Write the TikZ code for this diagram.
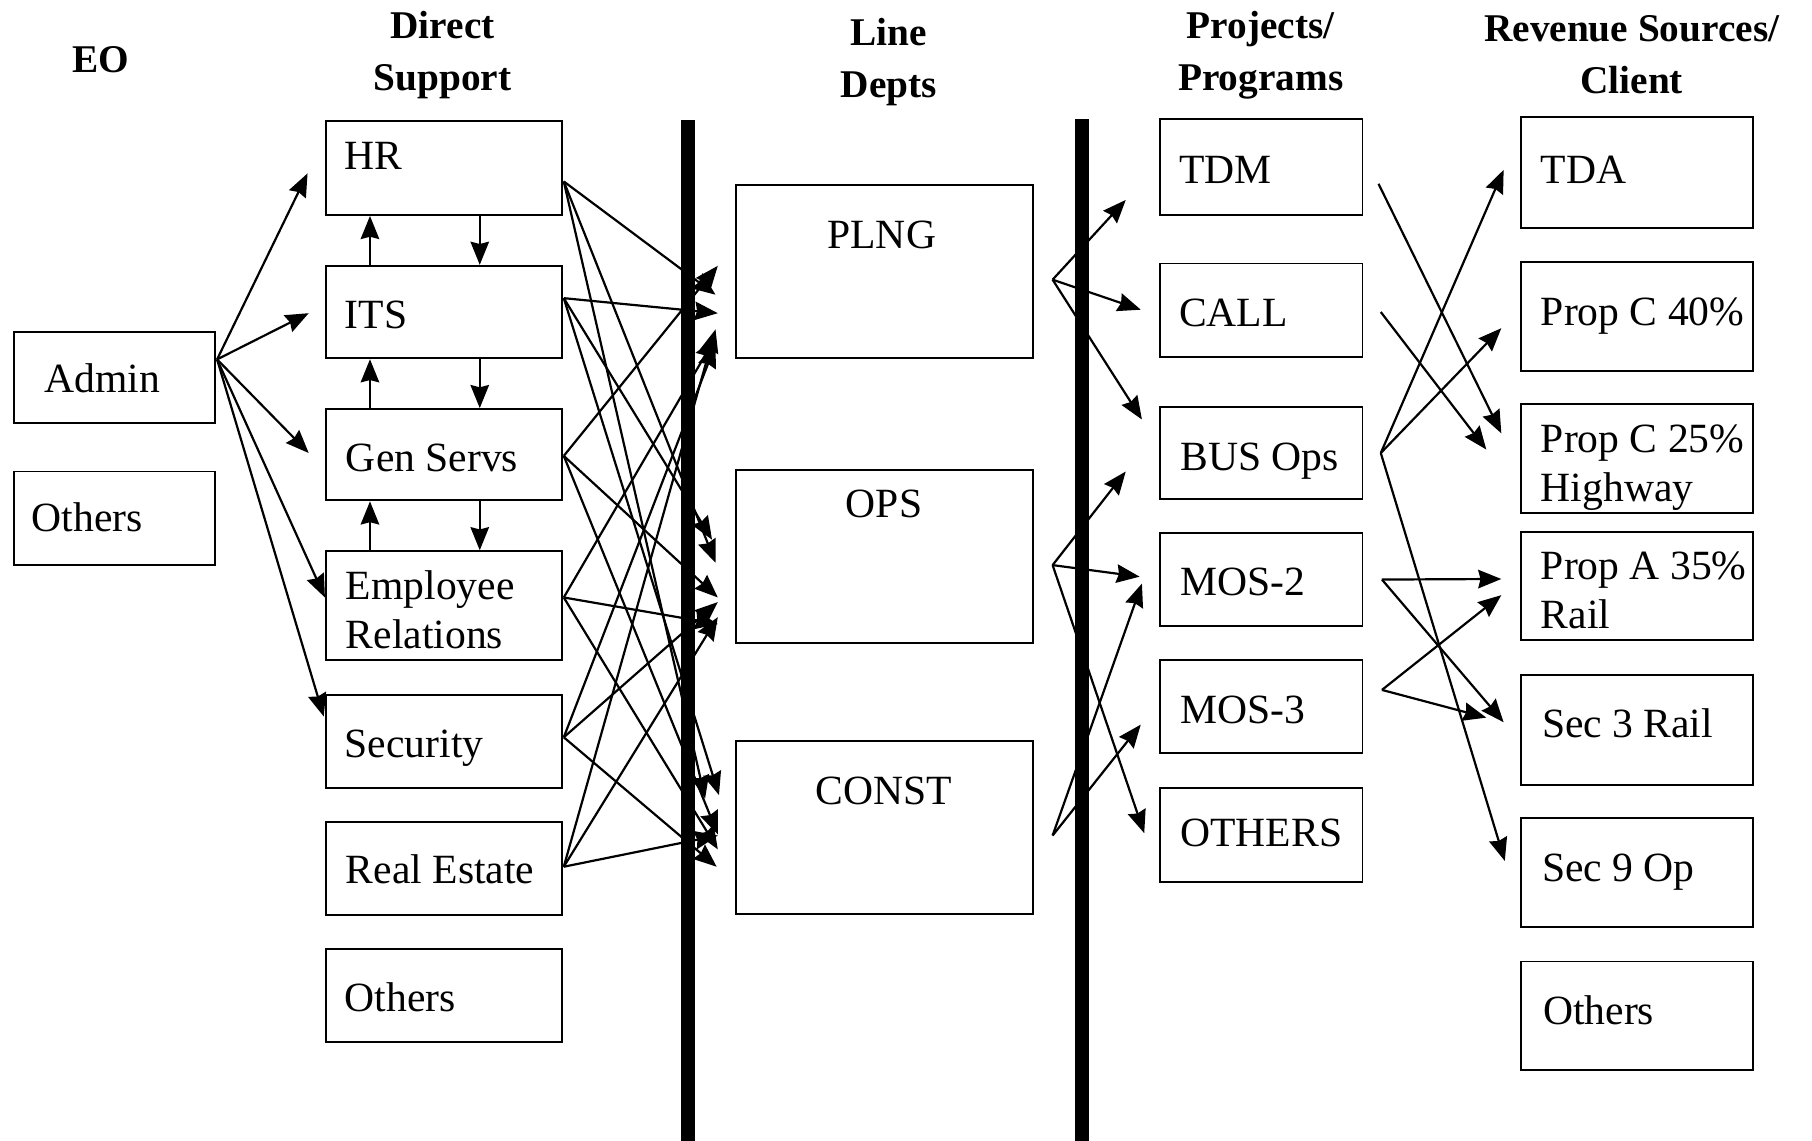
\documentclass[tikz,border=0pt]{standalone}
\usepackage{fontspec}
\setmainfont{Liberation Serif}
\usetikzlibrary{arrows.meta,calc}
\begin{document}
\begin{tikzpicture}[x=0.5pt,y=-0.5pt,
  box/.style={draw, line width=0.85pt, inner sep=0pt},
  txt/.style={inner sep=0pt, font=\fontsize{18}{21}\selectfont, text height=13.5pt, text depth=1.6pt},
  mtxt/.style={inner sep=0pt, font=\fontsize{18}{21}\selectfont, align=left},
  hdr/.style={inner sep=0pt, font=\fontsize{17}{22.5}\selectfont\bfseries, align=center},
  arr/.style={line width=0.95pt, -{Stealth[length=10pt,width=8pt,inset=1pt]}},
  barfill/.style={fill=black},
]
\useasboundingbox (0,0) rectangle (1568,987);
\fill[white] (0,0) rectangle (1568,987);

% headers
\node[hdr] (h-eo) at (87,52) {EO};
\node[hdr] (h-ds) at (383,48) {Direct\\Support};
\node[hdr] (h-ld) at (769,54) {Line\\Depts};
\node[hdr] (h-pp) at (1091,47.5) {Projects/\\Programs};
\node[hdr] (h-rv) at (1412,47) {Revenue Sources/\\Client};

% EO column
\node[box, minimum width=87pt, minimum height=39.5pt] (admin) at (99,326.5) {};
\node[box, minimum width=87pt, minimum height=40.5pt] (eoth) at (99,448.5) {};
\node[txt, anchor=west] (admin-t) at (38,328) {Admin};
\node[txt, anchor=west] (eoth-t) at (27,448) {Others};

% Direct support column
\node[box, minimum width=102pt, minimum height=40.5pt] (hr) at (384,145.5) {};
\node[box, minimum width=102pt, minimum height=40pt] (its) at (384,270) {};
\node[box, minimum width=102pt, minimum height=39.5pt] (gs) at (384,393.5) {};
\node[box, minimum width=102pt, minimum height=47pt] (er) at (384,524) {};
\node[box, minimum width=102pt, minimum height=40.5pt] (sec) at (384,641.5) {};
\node[box, minimum width=102pt, minimum height=40.5pt] (re) at (384,751.5) {};
\node[box, minimum width=102pt, minimum height=40.5pt] (dsoth) at (384,861.5) {};
\node[txt, anchor=west] (hr-t) at (298,135) {HR};
\node[txt, anchor=west] (its-t) at (298,272) {ITS};
\node[txt, anchor=west] (gs-t) at (299,396) {Gen Servs};
\node[mtxt, anchor=west] (er-t) at (299,527.7) {Employee\\Relations};
\node[txt, anchor=west] (sec-t) at (298,644) {Security};
\node[txt, anchor=west] (re-t) at (299,753) {Real Estate};
\node[txt, anchor=west] (dsoth-t) at (298,863) {Others};

% Line depts
\node[box, minimum width=128.5pt, minimum height=75pt] (plng) at (765.5,235) {};
\node[box, minimum width=128.5pt, minimum height=74.5pt] (ops) at (765.5,481.5) {};
\node[box, minimum width=128.5pt, minimum height=75pt] (const) at (765.5,716) {};
\node[txt] (plng-t) at (763,203) {PLNG};
\node[txt] (ops-t) at (765,436) {OPS};
\node[txt] (const-t) at (765,684) {CONST};

% Projects / programs
\node[box, minimum width=87.5pt, minimum height=41.5pt] (tdm) at (1091.5,144.5) {};
\node[box, minimum width=87.5pt, minimum height=40.5pt] (call) at (1091.5,268.5) {};
\node[box, minimum width=87.5pt, minimum height=40pt] (bus) at (1091.5,392) {};
\node[box, minimum width=87.5pt, minimum height=40.5pt] (mos2) at (1091.5,501.5) {};
\node[box, minimum width=87.5pt, minimum height=40.5pt] (mos3) at (1091.5,611.5) {};
\node[box, minimum width=87.5pt, minimum height=40.5pt] (ppoth) at (1091.5,722.5) {};
\node[txt, anchor=west] (tdm-t) at (1020,147) {TDM};
\node[txt, anchor=west] (call-t) at (1020,271) {CALL};
\node[txt, anchor=west] (bus-t) at (1021,395) {BUS Ops};
\node[txt, anchor=west] (mos2-t) at (1021,503) {MOS-2};
\node[txt, anchor=west] (mos3-t) at (1021,614) {MOS-3};
\node[txt, anchor=west] (ppoth-t) at (1021,721) {OTHERS};

% Revenue sources
\node[box, minimum width=100.5pt, minimum height=48pt] (tda) at (1416.5,149) {};
\node[box, minimum width=100.5pt, minimum height=47pt] (pc40) at (1416.5,274) {};
\node[box, minimum width=100.5pt, minimum height=47pt] (pc25) at (1416.5,397) {};
\node[box, minimum width=100.5pt, minimum height=47pt] (pa35) at (1416.5,507) {};
\node[box, minimum width=100.5pt, minimum height=47.5pt] (s3) at (1416.5,631.5) {};
\node[box, minimum width=100.5pt, minimum height=47pt] (s9) at (1416.5,755) {};
\node[box, minimum width=100.5pt, minimum height=47pt] (rvoth) at (1416.5,879) {};
\node[txt, anchor=west] (tda-t) at (1333,147) {TDA};
\node[txt, anchor=west] (pc40-t) at (1333,270) {Prop C 40\%};
\node[mtxt, anchor=west] (pc25-t) at (1333,404.5) {Prop C 25\%\\Highway};
\node[mtxt, anchor=west] (pa35-t) at (1333,511) {Prop A 35\%\\Rail};
\node[txt, anchor=west] (s3-t) at (1334,626) {Sec 3 Rail};
\node[txt, anchor=west] (s9-t) at (1334,751) {Sec 9 Op};
\node[txt, anchor=west] (rvoth-t) at (1335,875) {Others};

% Admin arrows
\coordinate (a-src) at ($(admin.east)+(1,-15.5)$);
\draw[arr] (a-src) -- ($(hr.west)+(-15,4.5)$);
\draw[arr] (a-src) -- ($(its.west)+(-14,1)$);
\draw[arr] (a-src) -- ($(gs.west)+(-14,-1.5)$);
\draw[arr] (a-src) -- ($(er.west)+(0,-7)$);
\draw[arr] (a-src) -- ($(sec.west)+(-1,-21.5)$);

% vertical arrows between support boxes
\foreach \up/\lo in {hr/its, its/gs, gs/er}{
  \draw[arr] ($(\lo.north west)+(39,0)$) -- ($(\up.south west)+(39,0)$);
  \draw[arr] ($(\up.south west)+(134,0)$) -- ($(\lo.north west)+(134,0)$);
}

% sources of the support -> line dept tangle
\coordinate (hr-s) at ($(hr.east)+(1,11.5)$);
\coordinate (its-s) at ($(its.east)+(1,-12)$);
\coordinate (gs-s) at ($(gs.east)+(1,1)$);
\coordinate (er-s) at ($(er.east)+(1,-7)$);
\coordinate (sec-s) at ($(sec.east)+(1,-3.5)$);
\coordinate (re-s) at ($(re.east)+(1,-1.5)$);

\draw[arr] (hr-s) -- ($(plng.west)+(-17,20)$);
\draw[arr] (hr-s) -- ($(ops.west)+(-17,5.5)$);
\draw[arr] (hr-s) -- ($(const.west)+(-26,-25)$);
\draw[arr] (its-s) -- ($(plng.west)+(-15,36)$);
\draw[arr] (its-s) -- ($(ops.west)+(-20,-14.5)$);
\draw[arr] (its-s) -- ($(const.west)+(-14,-28)$);
\draw[arr] (gs-s) -- ($(plng.west)+(-15,-5)$);
\draw[arr] (gs-s) -- ($(ops.west)+(-15,35.5)$);
\draw[arr] (gs-s) -- ($(const.west)+(-15,6)$);
\draw[arr] (er-s) -- ($(plng.west)+(-17,57)$);
\draw[arr] (er-s) -- ($(ops.west)+(-15,58.5)$);
\draw[arr] (er-s) -- ($(const.west)+(-15,19)$);
\draw[arr] (sec-s) -- ($(plng.west)+(-17,63)$);
\draw[arr] (sec-s) -- ($(ops.west)+(-15,39.5)$);
\draw[arr] (sec-s) -- ($(const.west)+(-16,34)$);
\draw[arr] (re-s) -- ($(plng.west)+(-17,50)$);
\draw[arr] (re-s) -- ($(ops.west)+(-15,52.5)$);
\draw[arr] (re-s) -- ($(const.west)+(-15,7)$);

% line depts -> projects
\coordinate (plng-s) at ($(plng.east)+(16,7)$);
\coordinate (ops-s) at ($(ops.east)+(16,7.5)$);
\coordinate (const-s) at ($(const.east)+(16,7)$);
\draw[arr] (plng-s) -- ($(tdm.west)+(-29,28.5)$);
\draw[arr] (plng-s) -- ($(call.west)+(-16,-0.5)$);
\draw[arr] (plng-s) -- ($(bus.west)+(-15,-29)$);
\draw[arr] (ops-s) -- ($(bus.west)+(-29,16)$);
\draw[arr] (ops-s) -- ($(mos2.west)+(-17,-2.5)$);
\draw[arr] (ops-s) -- ($(ppoth.west)+(-13,-1.5)$);
\draw[arr] (const-s) -- ($(mos2.west)+(-15,3.5)$);
\draw[arr] (const-s) -- ($(mos3.west)+(-16,15.5)$);

% thick separators
\fill[barfill] (589,104) rectangle (601,987);
\fill[barfill] (930,103) rectangle (942,987);

% projects -> revenue
\coordinate (tdm-s) at ($(tdm.east)+(13,14.5)$);
\coordinate (call-s) at ($(call.east)+(15,1.5)$);
\coordinate (bus-s) at ($(bus.east)+(15,0)$);
\coordinate (mos2-s) at ($(mos2.east)+(16,0)$);
\coordinate (mos3-s) at ($(mos3.east)+(16,-14.5)$);
\draw[arr] (tdm-s) -- ($(pc25.west)+(-16,-22)$);
\draw[arr] (call-s) -- ($(pc25.west)+(-29,-8)$);
\draw[arr] (bus-s) -- ($(tda.west)+(-14,-2)$);
\draw[arr] (bus-s) -- ($(pc40.west)+(-16,10)$);
\draw[arr] (bus-s) -- ($(s9.west)+(-13,-10)$);
\draw[arr] (mos2-s) -- ($(pa35.west)+(-16,-6)$);
\draw[arr] (mos2-s) -- ($(s3.west)+(-14,-6.5)$);
\draw[arr] (mos3-s) -- ($(pa35.west)+(-16,8)$);
\draw[arr] (mos3-s) -- ($(s3.west)+(-29,-10.5)$);
\end{tikzpicture}
\end{document}
